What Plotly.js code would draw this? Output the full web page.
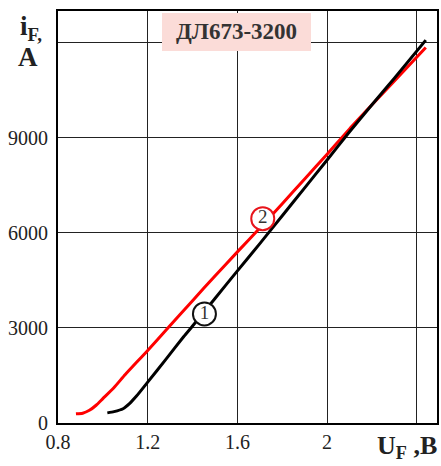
<!DOCTYPE html>
<html>
<head>
<meta charset="utf-8">
<script src="https://cdn.plot.ly/plotly-3.0.1.min.js"></script>
<style>html,body{margin:0;padding:0;background:#fff;}#chart{width:441px;height:466px;}</style>
</head>
<body>
<div id="chart"></div>
<script>
// Curve 1 (black)
const v1 = [1.02, 1.05, 1.09, 1.12, 1.15, 1.20, 1.28, 1.36, 1.40, 1.50, 1.60, 1.70, 1.80, 1.90, 2.00, 2.10, 2.20, 2.30, 2.44];
const i1 = [320, 360, 450, 620, 850, 1290, 2000, 2720, 3060, 3930, 4800, 5660, 6540, 7420, 8300, 9190, 10040, 10880, 12080];
// Curve 2 (red)
const v2 = [0.88, 0.91, 0.94, 0.97, 1.00, 1.05, 1.10, 1.20, 1.29, 1.40, 1.50, 1.60, 1.70, 1.80, 1.90, 2.00, 2.10, 2.20, 2.30, 2.44];
const i2 = [290, 310, 400, 560, 770, 1120, 1530, 2290, 3000, 3860, 4640, 5400, 6150, 6920, 7700, 8480, 9280, 10040, 10790, 11850];
// Curve labels
const labelV = [1.453, 1.713];
const labelI = [3441, 6448];
const labelText = ['1', '2'];
const labelColor = ['#111', '#e8141b'];
// Ticks (labelled) and extra unlabelled grid lines
const xTickVals = [0.8, 1.2, 1.6, 2.0];
const xTickText = ['0.8', '1.2', '1.6', '2'];
const xExtraGrid = [2.4];
const yTickVals = [0, 3000, 6000, 9000];
const yTickText = ['0', '3000', '6000', '9000'];
const yExtraGrid = [12000];
const chartTitle = 'ДЛ673-3200';

const serif = 'Liberation Serif, Times New Roman, serif';

const traces = [
  {x: v2, y: i2, mode: 'lines', line: {color: '#ff0000', width: 3, shape: 'spline', smoothing: 0.6}, hoverinfo: 'none'},
  {x: v1, y: i1, mode: 'lines', line: {color: '#000000', width: 3, shape: 'spline', smoothing: 0.6}, hoverinfo: 'none'},
  {x: labelV, y: labelI, mode: 'markers+text', text: labelText, textposition: 'middle center',
   textfont: {family: serif, size: 19, color: '#333'},
   marker: {size: 23, color: '#ffffff', line: {color: labelColor, width: 2}}, hoverinfo: 'none'}
];

const W = 441, H = 466, L = 58, R = 4, T = 11, B = 43;
const pw = W - L - R, ph = H - T - B;
const px = p => (p - L) / pw;
const py = p => (H - B - p) / ph;

const gridStyle = {showgrid: true, gridcolor: '#222', gridwidth: 1};

const layout = {
  width: W, height: H,
  margin: {l: L, r: R, t: T, b: B, pad: 0},
  paper_bgcolor: '#fff', plot_bgcolor: '#fff',
  showlegend: false,
  font: {family: serif, size: 20, color: '#222'},
  xaxis: Object.assign({
    range: [0.8, 2.49], tickmode: 'array', tickvals: xTickVals, ticktext: xTickText,
    zeroline: false,
    showline: true, linecolor: '#000', linewidth: 2, mirror: true,
    ticks: '', tickfont: {family: serif, size: 20, color: '#222'},
    minor: Object.assign({tickmode: 'array', tickvals: xExtraGrid, ticks: ''}, gridStyle)
  }, gridStyle),
  yaxis: Object.assign({
    range: [0, 13000], tickmode: 'array', tickvals: yTickVals, ticktext: yTickText,
    zeroline: false,
    showline: true, linecolor: '#000', linewidth: 2, mirror: true,
    ticks: '', ticklabelstandoff: 4, tickfont: {family: serif, size: 20, color: '#222'},
    minor: Object.assign({tickmode: 'array', tickvals: yExtraGrid, ticks: ''}, gridStyle)
  }, gridStyle),
  shapes: [
    {type: 'rect', xref: 'paper', yref: 'paper', x0: px(162), x1: px(311), y0: py(51), y1: py(13),
     fillcolor: '#fbdcd8', line: {width: 0}, layer: 'above'}
  ],
  annotations: [
    {xref: 'paper', yref: 'paper', x: px(236.5), y: py(32), xanchor: 'center', yanchor: 'middle',
     text: '<b>' + chartTitle + '</b>', showarrow: false, font: {family: serif, size: 23, color: '#333'}},
    {xref: 'paper', yref: 'paper', x: px(18), y: py(28), xanchor: 'left', yanchor: 'middle',
     text: '<b>i<sub>F,</sub></b>', showarrow: false, font: {family: serif, size: 27, color: '#222'}},
    {xref: 'paper', yref: 'paper', x: px(28), y: py(57), xanchor: 'center', yanchor: 'middle',
     text: '<b>A</b>', showarrow: false, font: {family: serif, size: 27, color: '#222'}},
    {xref: 'paper', yref: 'paper', x: px(439), y: py(447), xanchor: 'right', yanchor: 'middle',
     text: '<b>U<sub>F</sub> ,B</b>', showarrow: false, font: {family: serif, size: 26, color: '#222'}}
  ]
};

Plotly.newPlot('chart', traces, layout, {staticPlot: true, displayModeBar: false});
</script>
</body>
</html>
